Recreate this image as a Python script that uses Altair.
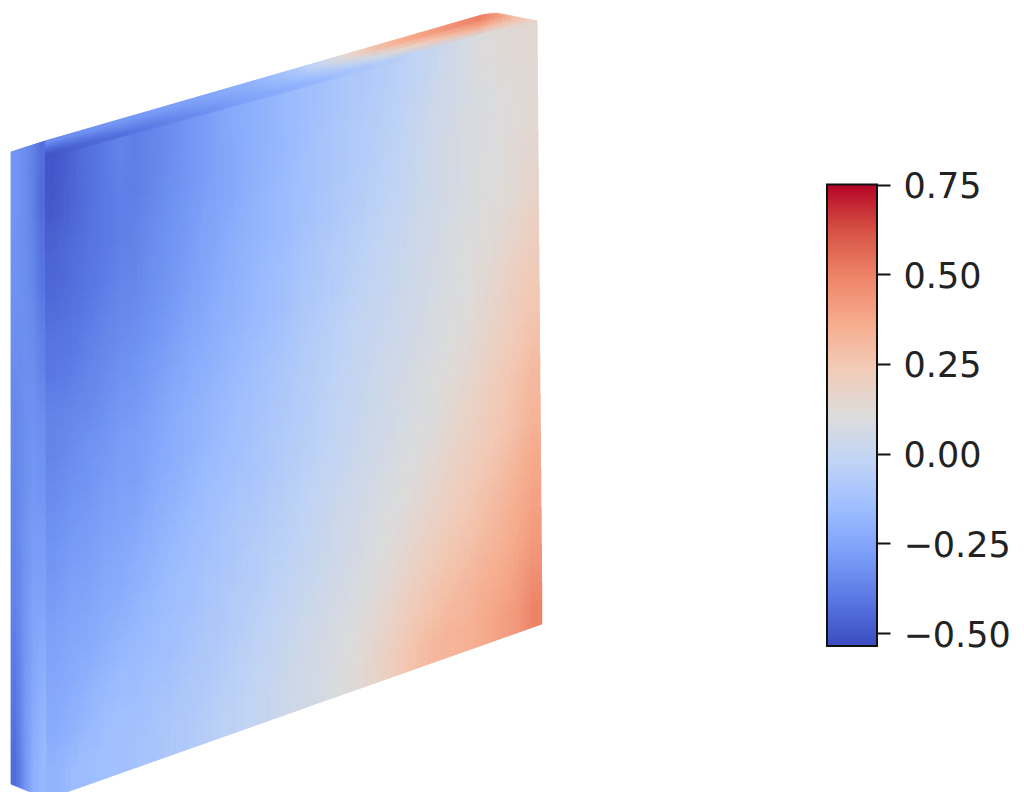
import altair as alt
import pandas as pd

alt.data_transformers.disable_max_rows()

# Surface values, in hundredths; rows run top to bottom.
FRONT = [
    [-50,-47,-43,-40,-37,-38,-36,-34,-31,-29,-26,-23,-21,-19,-17,-15,-13,-11,-9,-8,-6,-4,-2,1,4,7,10,12,13,14],
    [-49,-46,-43,-40,-38,-38,-36,-33,-31,-29,-26,-24,-21,-19,-17,-15,-12,-10,-8,-7,-5,-3,0,3,5,7,9,10,12,13],
    [-46,-44,-42,-40,-38,-37,-34,-32,-30,-27,-25,-23,-20,-18,-16,-14,-12,-10,-8,-6,-4,-2,1,4,6,8,9,11,12,14],
    [-45,-43,-41,-39,-37,-36,-33,-31,-29,-26,-24,-21,-19,-17,-16,-13,-11,-9,-7,-5,-3,-1,2,4,6,8,10,11,13,15],
    [-42,-41,-39,-37,-35,-34,-32,-30,-27,-25,-22,-20,-18,-16,-14,-11,-9,-7,-5,-3,-1,1,3,5,7,9,11,12,14,17],
    [-40,-39,-37,-35,-33,-32,-30,-28,-25,-23,-21,-19,-17,-15,-13,-10,-8,-6,-4,-2,0,2,4,6,8,10,12,14,17,20],
    [-37,-36,-35,-33,-31,-30,-28,-25,-23,-21,-19,-17,-15,-13,-11,-8,-6,-4,-2,0,1,3,5,7,9,11,13,16,20,23],
    [-36,-34,-32,-31,-29,-28,-26,-23,-21,-19,-17,-15,-13,-11,-9,-7,-5,-3,-1,1,3,4,6,8,10,12,15,18,22,25],
    [-34,-32,-31,-29,-27,-27,-24,-22,-20,-18,-16,-14,-12,-10,-8,-6,-4,-2,0,2,4,6,8,10,12,14,17,21,24,28],
    [-32,-30,-29,-27,-26,-25,-22,-20,-18,-16,-14,-12,-11,-9,-7,-5,-3,-1,1,3,5,7,9,11,14,17,20,24,27,31],
    [-30,-28,-27,-25,-24,-22,-20,-18,-16,-14,-12,-10,-9,-7,-5,-3,-1,1,3,5,7,9,11,13,16,19,22,25,28,33],
    [-28,-26,-25,-23,-22,-20,-18,-16,-14,-12,-11,-9,-7,-5,-4,-2,0,3,5,7,9,11,13,16,19,22,25,28,32,37],
    [-26,-24,-23,-21,-19,-17,-16,-14,-13,-11,-9,-7,-6,-4,-2,0,2,4,6,8,11,13,16,19,22,25,28,31,35,39],
    [-24,-22,-20,-18,-16,-16,-14,-13,-11,-9,-8,-6,-4,-2,0,2,4,6,8,10,13,16,20,23,26,28,31,34,37,42],
    [-22,-20,-17,-15,-14,-14,-12,-11,-9,-8,-6,-4,-2,0,2,4,6,8,10,13,16,20,24,27,30,32,35,37,40,45],
    [-19,-16,-15,-14,-13,-12,-11,-9,-8,-6,-4,-3,-1,1,3,5,7,9,12,15,19,24,28,31,33,34,37,40,43,49],
]
SIDE = [
    [-31,-33,-37,-43],[-31,-33,-37,-44],[-32,-33,-36,-42],[-32,-33,-35,-41],
    [-33,-33,-34,-38],[-34,-33,-33,-37],[-35,-33,-32,-34],[-35,-33,-31,-32],
    [-36,-33,-30,-31],[-36,-32,-29,-29],[-37,-32,-28,-27],[-37,-31,-26,-25],
    [-39,-31,-25,-22],[-40,-31,-24,-20],[-42,-31,-22,-18],[-44,-32,-21,-17],
]
TOP = [
    [-34,-33,-32,-31,-30,-30,-29,-28,-27,-26,-24,-22,-20,-17,-13,-8,-1,6,14,22,29,34,38,41,44,47,50,43,30,20],
    [-44,-42,-40,-38,-36,-35,-34,-33,-31,-29,-27,-25,-23,-20,-17,-14,-10,-6,-2,3,8,14,19,24,28,32,36,30,22,16],
    [-50,-48,-46,-44,-43,-41,-39,-37,-35,-33,-31,-28,-26,-24,-22,-20,-18,-15,-12,-10,-7,-5,-2,1,4,7,10,12,13,14],
]
COLORBAR_LOW = -0.536
COLORBAR_HIGH = 0.75
COLORBAR_TICKS = [-0.5, -0.25, 0.0, 0.25, 0.5, 0.75]
CMAP_VALUES = [-0.536, -0.407, -0.279, -0.15, -0.021, 0.107, 0.236, 0.364, 0.493, 0.621, 0.75]
CMAP_COLORS = ["#3b4cc0", "#5977e3", "#7b9ff9", "#9ebeff", "#c0d4f5", "#dddcdc",
               "#f2cbb7", "#f7ac8e", "#ee8468", "#d65244", "#b40426"]

# Outline of the slab in the picture's own coordinates.
FRONT_TL, FRONT_TR, FRONT_BR, FRONT_BL = (45, 158), (537, 24), (542, 624), (47, 799)
SIDE_L_TOP, SIDE_L_BOTTOM = (11, 152), (11, 784)
SIDE_R_TOP = (45, 141)
TOP_TIP = (492, 12)
# Each pass redraws the cells, shifted by a fraction of a cell, to soften the grid.
PASSES = [(-0.375, -0.125, 1.0, 0.8), (-0.125, 0.375, 0.5, 0), (0.125, -0.375, 0.333, 0), (0.375, 0.125, 0.25, 0)]


def lerp(a, b, t):
    return a + (b - a) * t


def clamp(t):
    return max(0.0, min(1.0, t))


def front_x(u, v):
    return lerp(lerp(FRONT_TL[0], FRONT_BL[0], v), lerp(FRONT_TR[0], FRONT_BR[0], v), u)


def front_y(u, v):
    return lerp(lerp(FRONT_TL[1], FRONT_TR[1], u), lerp(FRONT_BL[1], FRONT_BR[1], u), v)


def outer_y(u):
    x = lerp(FRONT_TL[0], FRONT_TR[0], u)
    if x <= TOP_TIP[0]:
        return lerp(SIDE_R_TOP[1], TOP_TIP[1], (x - SIDE_R_TOP[0]) / (TOP_TIP[0] - SIDE_R_TOP[0]))
    return lerp(TOP_TIP[1], FRONT_TR[1] - 3, (x - TOP_TIP[0]) / (FRONT_TR[0] - TOP_TIP[0]))


def front_cell(u0, u1, v0, v1):
    vc = (v0 + v1) / 2
    return front_x(u0, vc), front_x(u1, vc), front_y(u0, v0), front_y(u0, v1), front_y(u1, v0), front_y(u1, v1)


def side_cell(u0, u1, v0, v1):
    vc = (v0 + v1) / 2
    right = front_x(0, vc)
    def top(u):
        return lerp(SIDE_L_TOP[1], SIDE_R_TOP[1], u)
    def bottom(u):
        return lerp(SIDE_L_BOTTOM[1], FRONT_BL[1], u)
    return (lerp(SIDE_L_TOP[0], right, u0), lerp(SIDE_L_TOP[0], right, u1),
            lerp(top(u0), bottom(u0), v0), lerp(top(u0), bottom(u0), v1),
            lerp(top(u1), bottom(u1), v0), lerp(top(u1), bottom(u1), v1))


def top_cell(u0, u1, v0, v1):
    x0, x1 = lerp(FRONT_TL[0], FRONT_TR[0], u0), lerp(FRONT_TL[0], FRONT_TR[0], u1)
    o0, i0 = outer_y(u0), front_y(u0, 0)
    o1, i1 = outer_y(u1), front_y(u1, 0)
    return x0, x1, lerp(o0, i0, v0), lerp(o0, i0, v1), lerp(o1, i1, v0), lerp(o1, i1, v1)


rows = []
for du, dv, alpha, stroke_w in PASSES:
    for matrix, cell_fn in [(SIDE, side_cell), (TOP, top_cell), (FRONT, front_cell)]:
        nr, nc = len(matrix), len(matrix[0])
        for r, line in enumerate(matrix):
            for c, val in enumerate(line):
                u0, u1 = clamp((c + du) / nc), clamp((c + 1 + du) / nc)
                if c == 0:
                    u0 = 0.0
                if c == nc - 1:
                    u1 = 1.0
                v0, v1 = clamp((r + dv) / nr), clamp((r + 1 + dv) / nr)
                if r == 0:
                    v0 = 0.0
                if r == nr - 1:
                    v1 = 1.0
                x0, x1, t0, b0, t1, b1 = cell_fn(u0, u1, v0, v1)
                cell = len(rows) // 2
                rows.append(dict(x=x0, top=t0, bottom=b0, value=val / 100, cell=cell, alpha=alpha, sw=stroke_w))
                rows.append(dict(x=x1, top=t1, bottom=b1, value=val / 100, cell=cell, alpha=alpha, sw=stroke_w))

surface_df = pd.DataFrame(rows)
color_scale = alt.Scale(domain=CMAP_VALUES, range=CMAP_COLORS, interpolate="rgb")

surface = alt.Chart(surface_df).mark_area(orient="vertical").encode(
    x=alt.X("x:Q", axis=None, scale=alt.Scale(domain=[8, 877], nice=False, zero=False)),
    y=alt.Y("top:Q", axis=None, scale=alt.Scale(domain=[792, 8], nice=False, zero=False)),
    y2="bottom:Q",
    fill=alt.Fill("value:Q", scale=color_scale, legend=None),
    stroke=alt.Stroke("value:Q", scale=color_scale, legend=None),
    opacity=alt.Opacity("alpha:Q", scale=None),
    strokeWidth=alt.StrokeWidth("sw:Q", scale=None),
    detail="cell:N",
)

gradient = alt.LinearGradient(
    gradient="linear", x1=0, x2=0, y1=1, y2=0,
    stops=[alt.GradientStop(color=col, offset=i / (len(CMAP_COLORS) - 1))
           for i, col in enumerate(CMAP_COLORS)],
)

bar_df = pd.DataFrame({"low": [COLORBAR_LOW], "high": [COLORBAR_HIGH]})
colorbar = alt.Chart(bar_df).mark_rect(color=gradient, stroke="#111111", strokeWidth=2).encode(
    x=alt.value(819),
    x2=alt.value(869),
    y=alt.Y(
        "low:Q",
        title=None,
        scale=alt.Scale(domain=[COLORBAR_LOW, COLORBAR_HIGH], range=[638, 176.5], nice=False, zero=False),
        axis=alt.Axis(
            orient="right", values=COLORBAR_TICKS, format=".2f", domain=False, grid=False,
            tickSize=13, tickWidth=2, tickColor="#111111",
            labelFont="DejaVu Sans", labelFontSize=35, labelColor="#222222",
            labelPadding=13, labelOffset=2, labelFlush=False, labelOverlap=False,
        ),
    ),
    y2="high:Q",
)

chart = (
    alt.layer(surface, colorbar)
    .resolve_scale(x="independent", y="independent")
    .properties(
        width=869, height=784,
        padding={"left": 0, "top": 0, "right": 139, "bottom": 0},
        autosize=alt.AutoSizeParams(type="none"),
        background="white",
    )
    .configure_view(stroke=None)
)

chart.save("out.html", embed_options={"renderer": "svg", "actions": False})
